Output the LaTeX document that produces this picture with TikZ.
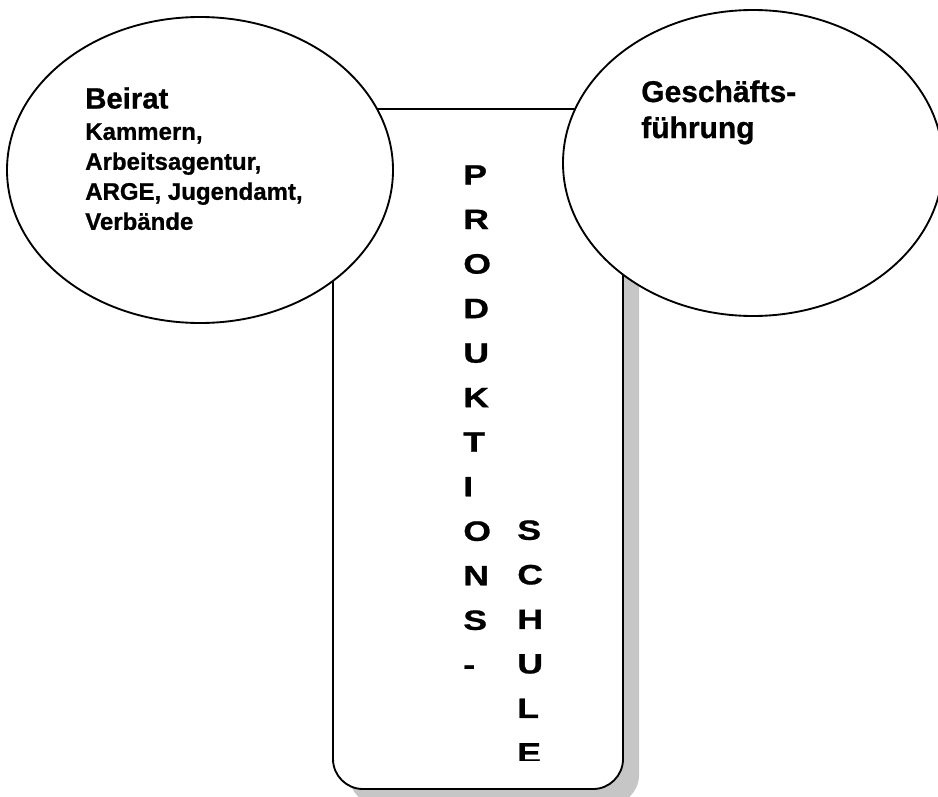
\documentclass[tikz,border=0pt]{standalone}
\usepackage{fontspec}
\setmainfont{Liberation Sans}[BoldFeatures={FakeBold=0.8}]
\usetikzlibrary{shapes.geometric,shadows}
\tikzset{
    circlebox/.style={%
        draw, ellipse, fill=white, line width=1.4pt,
        minimum width=#1,
        minimum height=229.5pt,
        inner sep=0pt
    },
    circlebox/.default=289.5pt,
    schoolbox/.style={%
        draw, fill=white, line width=1.4pt,
        rounded corners=22.5pt,
        minimum width=217.5pt,
        minimum height=510pt,
        drop shadow={shadow xshift=12pt, shadow yshift=-12pt, fill=gray!45, opacity=1}
    },
    txt/.style={anchor=north west, inner sep=0pt, align=left},
    letters/.style={txt, transform shape, font=\bfseries\fontsize{21}{33.4}\selectfont}
}

\begin{document}
\begin{tikzpicture}[x=0.75pt, y=-0.75pt]
    \useasboundingbox (0,0) rectangle (938,796);
    \node[schoolbox] (ps) at (478,449) {};
    \node[circlebox] (beirat) at (200,170) {};
    \node[circlebox=285pt] (gf) at (753,163) {};
    % texts in the ellipses
    \node[txt, font=\bfseries\fontsize{22}{26}\selectfont] (beirattitle) at (85,87) {Beirat};
    \node[txt, font=\bfseries\fontsize{18}{22.5}\selectfont] (beiratlist) at (85,123)
        {Kammern,\\Arbeitsagentur,\\ARGE, Jugendamt,\\Verbände};
    \node[txt, font=\bfseries\fontsize{22.5}{27}\selectfont] (gftext) at (641,80) {Geschäfts-\\führung};
    % vertical words, drawn a bit wider
    \begin{scope}
        \clip (333,100) rectangle (623,760);
        \begin{scope}[shift={(463,165)}, xscale=1.27]
            \node[letters] (prod) at (0,0) {P\\R\\O\\D\\U\\K\\T\\I\\O\\N\\S\\-};
        \end{scope}
        \begin{scope}[shift={(517,520)}, xscale=1.27]
            \node[letters] (schule) at (0,0) {S\\C\\H\\U\\L\\E};
        \end{scope}
    \end{scope}
\end{tikzpicture}
\end{document}
